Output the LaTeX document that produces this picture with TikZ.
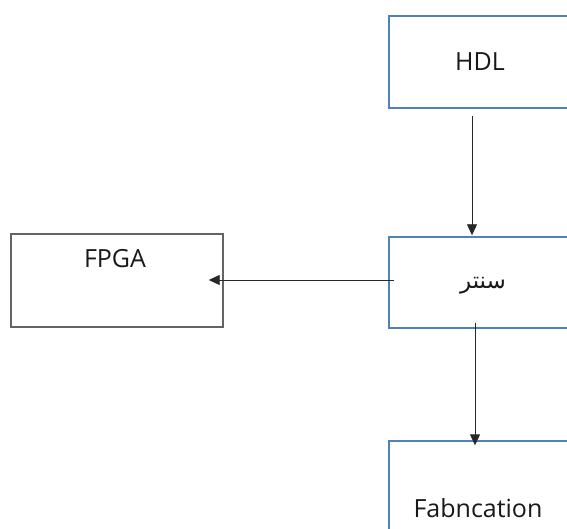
\documentclass[tikz,border=0pt]{standalone}
\usepackage{fontspec}
\setmainfont{Open Sans}
\newfontfamily\arabicfont[Script=Arabic]{DejaVu Sans}
\TeXXeTstate=1
\usetikzlibrary{arrows.meta,positioning}
\definecolor{boxblue}{RGB}{79,129,189}
\definecolor{boxgray}{RGB}{100,100,100}
\definecolor{linegray}{RGB}{40,40,40}
\tikzset{
  bluebox/.style={draw=boxblue, line width=1.4pt, fill=white, rectangle, inner sep=0pt},
  graybox/.style={draw=boxgray, line width=1.4pt, fill=white, rectangle, inner sep=0pt},
  flow/.style={draw=linegray, line width=0.9pt, -{Triangle[length=11pt,width=10pt]}},
  lbl/.style={font=\fontsize{25}{30}\selectfont, text=black!90}
}
\begin{document}
\begin{tikzpicture}[x=1pt,y=-1pt]
  \clip (0,0) rectangle (567,529);
  \fill[white] (0,0) rectangle (567,529);

  % boxes
  \node[bluebox, minimum width=182pt, minimum height=92pt] (hdl) at (480,62) {};
  \node[bluebox, minimum width=182pt, minimum height=91pt] (syn) at (480,282.5) {};
  \node[graybox, minimum width=212pt, minimum height=93pt] (fpga) at (117,280.5) {};
  \node[bluebox, minimum width=182pt, minimum height=140pt] (fab) at (480,511) {};

  % texts
  \node[lbl] (hdltxt) at (480,62) {HDL};
  \node[lbl, font=\arabicfont\fontsize{23}{28}\selectfont] (syntxt) at (483,286) {\beginR سنتر\endR};
  \node[lbl] (fpgatxt) at (115,259) {FPGA};
  \node[lbl] (fabtxt) at (478,508) {Fabncation};

  % connectors
  \draw[flow] ([xshift=-8pt,yshift=-7pt]hdl.south) -- ([xshift=-8pt,yshift=1pt]syn.north);
  \draw[flow] ([xshift=6pt,yshift=2.5pt]syn.west) -- ([xshift=-15pt,yshift=0.5pt]fpga.east);
  \draw[flow] ([xshift=-5pt,yshift=6pt]syn.south) -- ([xshift=-5pt,yshift=-5pt]fab.north);
\end{tikzpicture}
\end{document}
